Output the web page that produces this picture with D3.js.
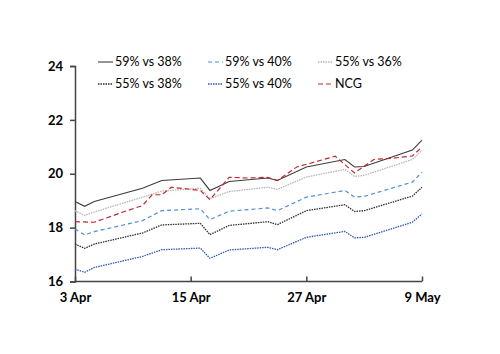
<!DOCTYPE html>
<html>
<head>
<meta charset="utf-8">
<script src="https://cdn.jsdelivr.net/npm/d3@7"></script>
<style>
  body { margin: 0; background: #fff; }
  svg text { font-family: Lato, "Open Sans", sans-serif; fill: #000; }
</style>
</head>
<body>
<div id="chart"></div>
<script>
// dates where the five poll-scenario lines change direction
const pollDates = ['2017-04-03','2017-04-04','2017-04-05','2017-04-10','2017-04-12',
  '2017-04-16','2017-04-17','2017-04-19','2017-04-23','2017-04-24','2017-04-27',
  '2017-05-01','2017-05-02','2017-05-03','2017-05-08','2017-05-09'];

const s59v38 = [18.97,18.79,18.97,19.46,19.75,19.84,19.38,19.71,19.84,19.75,20.25,20.53,20.25,20.27,20.88,21.25];
const s59v40 = [17.95,17.73,17.85,18.26,18.63,18.70,18.30,18.61,18.73,18.63,19.13,19.38,19.13,19.16,19.69,20.06];
const s55v36 = [18.63,18.45,18.58,19.13,19.36,19.46,19.07,19.34,19.50,19.42,19.88,20.16,19.90,19.94,20.53,20.87];
const s55v38 = [17.39,17.23,17.39,17.80,18.10,18.16,17.74,18.08,18.22,18.11,18.63,18.85,18.60,18.63,19.17,19.50];
const s55v40 = [16.46,16.34,16.52,16.93,17.18,17.24,16.86,17.17,17.27,17.18,17.64,17.86,17.62,17.64,18.20,18.51];

const ncgDates = ['2017-04-03','2017-04-05','2017-04-08','2017-04-10','2017-04-11','2017-04-12',
  '2017-04-13','2017-04-16','2017-04-17','2017-04-19','2017-04-21','2017-04-23','2017-04-24',
  '2017-04-26','2017-04-30','2017-05-02','2017-05-04','2017-05-06','2017-05-08','2017-05-09'];
const ncg = [18.22,18.20,18.58,18.82,19.22,19.22,19.50,19.38,19.04,19.87,19.84,19.87,19.75,
  20.25,20.65,20.03,20.53,20.58,20.66,20.99];

const yTicks = [16, 18, 20, 22, 24];
const xTicks = ['2017-04-03','2017-04-15','2017-04-27','2017-05-09'];

const parse = d3.timeParse('%Y-%m-%d');

const series = [
  {name: '59% vs 38%', dates: pollDates, values: s59v38, color: '#3c3c3c', dash: null, w: 1.1},
  {name: '59% vs 40%', dates: pollDates, values: s59v40, color: '#4f8fdc', dash: '4,3', w: 1.2},
  {name: '55% vs 36%', dates: pollDates, values: s55v36, color: '#b4b4b4', dash: '1.5,1', w: 1.3},
  {name: '55% vs 38%', dates: pollDates, values: s55v38, color: '#2e2e2e', dash: '1.5,1', w: 1.3},
  {name: '55% vs 40%', dates: pollDates, values: s55v40, color: '#2f56b0', dash: '1.5,1', w: 1.3},
  {name: 'NCG', dates: ncgDates, values: ncg, color: '#c0282d', dash: '5,3', w: 1.2}
];

const width = 500, height = 354;
const margin = {left: 75, right: 78, top: 66, bottom: 73};

const svg = d3.select('#chart').append('svg')
  .attr('width', width)
  .attr('height', height);

const x = d3.scaleTime()
  .domain([parse(xTicks[0]), parse(xTicks[xTicks.length - 1])])
  .range([margin.left, width - margin.right]);

const y = d3.scaleLinear()
  .domain([16, 24])
  .range([height - margin.bottom + 0.5, margin.top]);

// y axis
const yAxis = svg.append('g')
  .attr('transform', `translate(${margin.left},0)`)
  .call(d3.axisLeft(y).tickValues(yTicks).tickSize(5).tickPadding(7).tickFormat(d3.format('d')));
yAxis.selectAll('path, line').attr('stroke', '#444').attr('stroke-width', 1.5);
yAxis.selectAll('text').attr('font-size', 13).attr('font-weight', 'bold')
  .style('font-family', 'Lato, sans-serif');

// x axis, ticks pointing up
const xAxis = svg.append('g')
  .attr('transform', `translate(0,${y(16)})`)
  .call(d3.axisBottom(x).tickValues(xTicks.map(parse)).tickSize(-5).tickPadding(11)
    .tickFormat(d3.timeFormat('%-d %b')));
xAxis.select('.domain').attr('d', `M${x.range()[0]},0H${x.range()[1]}`);
xAxis.selectAll('path, line').attr('stroke', '#444').attr('stroke-width', 1.5);
xAxis.selectAll('text').attr('font-size', 13).attr('font-weight', 'bold')
  .style('font-family', 'Lato, sans-serif');

// lines
const line = d3.line()
  .x(d => x(d.date))
  .y(d => y(d.value));

svg.append('g').selectAll('path')
  .data(series)
  .join('path')
    .attr('fill', 'none')
    .attr('stroke', d => d.color)
    .attr('stroke-width', d => d.w)
    .attr('stroke-dasharray', d => d.dash)
    .attr('d', d => line(d.dates.map((t, i) => ({date: parse(t), value: d.values[i]}))));

// legend, 3 columns x 2 rows
const legend = svg.append('g').selectAll('g')
  .data(series)
  .join('g')
    .attr('transform', (d, i) => `translate(${98 + (i % 3) * 110},${62 + Math.floor(i / 3) * 22})`);

legend.append('line')
  .attr('x1', 0).attr('x2', 15)
  .attr('stroke', d => d.color)
  .attr('stroke-width', d => d.w)
  .attr('stroke-dasharray', d => d.dash);

legend.append('text')
  .attr('x', 17)
  .attr('dy', '0.35em')
  .attr('font-size', 12.5)
  .text(d => d.name);
</script>
</body>
</html>
